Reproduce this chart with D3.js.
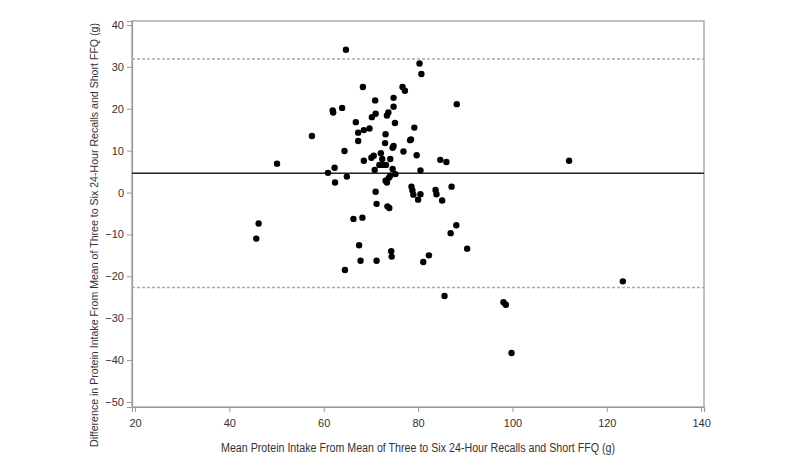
<!DOCTYPE html>
<meta charset="utf-8">
<script src="https://d3js.org/d3.v7.min.js"></script>
<style>
  body { margin: 0; background: #fff; }
  text { font-family: "Liberation Sans", Arial, sans-serif; }
</style>
<div id="my_dataviz"></div>
<script>

// mean protein intake (x) and difference (y)
var meanIntake = [64.7, 80.3, 80.7, 68.3, 76.7, 77.2, 74.8, 70.9, 88.2, 74.8,
  63.9, 61.9, 62.0, 73.7, 71.0, 73.4, 70.2, 66.8, 75.1, 79.2,
  69.7, 68.5, 67.3, 73.1, 57.5, 78.3, 78.5, 67.3, 73.0, 74.8,
  74.6, 64.4, 76.9, 72.1, 79.7, 70.6, 70.1, 72.4, 74.1, 84.7,
  112.0, 68.5, 86.0, 50.1, 71.8, 72.6, 73.2, 62.3, 74.6, 70.8,
  80.5, 60.9, 75.2, 74.1, 64.9, 73.8, 73.1, 73.4, 62.4, 78.6,
  87.1, 78.8, 83.7, 71.0, 79.0, 80.5, 83.9, 80.0, 85.1, 71.2,
  73.5, 73.9, 68.2, 66.3, 46.2, 88.1, 86.9, 45.7, 67.5, 90.4,
  74.3, 82.3, 74.4, 67.8, 71.2, 81.1, 64.5, 123.4, 85.6, 98.1,
  98.6, 99.8];
var difference = [34.1, 30.8, 28.3, 25.2, 25.2, 24.3, 22.6, 22.0, 21.1, 20.5,
  20.2, 19.6, 19.1, 19.1, 18.8, 18.4, 18.0, 16.8, 16.6, 15.5,
  15.3, 14.9, 14.3, 13.9, 13.5, 12.5, 12.7, 12.3, 11.8, 11.1,
  10.7, 9.9, 9.8, 9.4, 8.9, 8.8, 8.3, 8.0, 8.0, 7.8,
  7.6, 7.6, 7.3, 6.9, 6.6, 6.6, 6.6, 5.9, 5.6, 5.4,
  5.3, 4.7, 4.4, 4.0, 3.8, 3.5, 2.8, 2.4, 2.4, 1.4,
  1.4, 0.5, 0.6, 0.2, -0.5, -0.4, -0.4, -1.7, -1.9, -2.7,
  -3.3, -3.7, -6.0, -6.3, -7.4, -7.8, -9.7, -11.0, -12.6, -13.4,
  -14.0, -15.0, -15.3, -16.3, -16.3, -16.6, -18.5, -21.2, -24.7, -26.2,
  -26.8, -38.3];

// mean difference and limits of agreement
var meanDiff = 4.6;
var limits = [31.9, -22.7];

var xTicks = [20, 40, 60, 80, 100, 120, 140];
var yTicks = [40, 30, 20, 10, 0, -10, -20, -30, -40, -50];

var xLabel = "Mean Protein Intake From Mean of Three to Six 24-Hour Recalls and Short FFQ (g)";
var yLabel = "Difference in Protein Intake From Mean of Three to Six 24-Hour Recalls and Short FFQ (g)";

var data = meanIntake.map(function(d, i) { return {x: d, y: difference[i]}; });

var margin = {top: 21, right: 96, bottom: 69, left: 132},
    width = 800 - margin.left - margin.right,
    height = 476 - margin.top - margin.bottom;

var svg = d3.select("#my_dataviz")
  .append("svg")
    .attr("width", 800)
    .attr("height", 476)
  .append("g")
    .attr("transform", "translate(" + margin.left + "," + margin.top + ")");

var x = d3.scaleLinear().domain([19.36, 140.6]).range([0, width]);
var y = d3.scaleLinear().domain([-51.2, 40.95]).range([height, 0]);

// frame
svg.append("rect")
  .attr("width", width)
  .attr("height", height)
  .attr("fill", "none")
  .attr("stroke", "#9a9a9a")
  .attr("stroke-width", 1.2);

// axes
var xAxis = svg.append("g")
  .attr("transform", "translate(0," + height + ")")
  .call(d3.axisBottom(x).tickValues(xTicks).tickSize(5).tickPadding(7));
var yAxis = svg.append("g")
  .call(d3.axisLeft(y).tickValues(yTicks).tickSize(5).tickPadding(3));

[xAxis, yAxis].forEach(function(a) {
  a.select(".domain").attr("stroke", "#9a9a9a").attr("stroke-width", 1.2);
  a.selectAll(".tick line").attr("stroke", "#9a9a9a");
  a.selectAll(".tick text")
    .attr("fill", "#333")
    .style("font-size", "11px")
    .style("font-family", "'Liberation Sans', Arial, sans-serif");
});

// limits of agreement
svg.selectAll(".limit")
  .data(limits)
  .enter()
  .append("line")
    .attr("x1", 0)
    .attr("x2", width)
    .attr("y1", function(d) { return y(d); })
    .attr("y2", function(d) { return y(d); })
    .attr("stroke", "#aaa")
    .attr("stroke-width", 1.5)
    .attr("stroke-dasharray", "3,2");

// mean difference
svg.append("line")
  .attr("x1", 0)
  .attr("x2", width)
  .attr("y1", y(meanDiff))
  .attr("y2", y(meanDiff))
  .attr("stroke", "#222")
  .attr("stroke-width", 1.5);

// points
svg.selectAll(".dot")
  .data(data)
  .enter()
  .append("circle")
    .attr("cx", function(d) { return x(d.x); })
    .attr("cy", function(d) { return y(d.y); })
    .attr("r", 3.2)
    .attr("fill", "#000");

// axis labels
svg.append("text")
  .attr("x", width / 2)
  .attr("y", height + 45)
  .attr("text-anchor", "middle")
  .attr("fill", "#333")
  .attr("textLength", 394)
  .attr("lengthAdjust", "spacingAndGlyphs")
  .style("font-size", "12.5px")
  .text(xLabel);

svg.append("text")
  .attr("transform", "translate(" + (-34) + "," + (235 - margin.top) + ") rotate(-90)")
  .attr("text-anchor", "middle")
  .attr("fill", "#333")
  .attr("textLength", 424)
  .attr("lengthAdjust", "spacingAndGlyphs")
  .style("font-size", "11px")
  .text(yLabel);

</script>
